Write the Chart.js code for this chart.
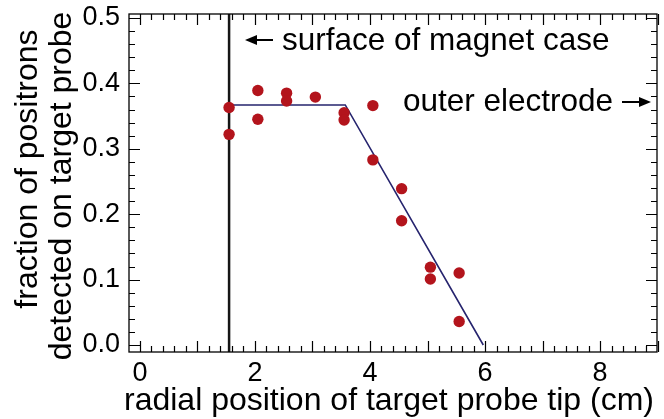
<!DOCTYPE html>
<html>
<head>
<meta charset="utf-8">
<script src="https://cdn.jsdelivr.net/npm/chart.js@4.4.1/dist/chart.umd.min.js"></script>
<style>
  html, body { margin: 0; padding: 0; background: #fff; }
  #chart { display: block; }
</style>
</head>
<body>
<canvas id="chart" width="664" height="419"></canvas>
<script>
// Measured positrons fraction vs radial probe position
const probeX = [1.55, 1.55, 2.05, 2.05, 2.55, 2.55, 3.05, 3.55, 3.55, 4.05, 4.05, 4.55, 4.55, 5.05, 5.05, 5.55, 5.55];
const fraction = [0.363, 0.322, 0.389, 0.345, 0.385, 0.373, 0.379, 0.355, 0.344, 0.366, 0.283, 0.239, 0.190, 0.119, 0.101, 0.110, 0.036];

// Piecewise fit line
const fitX = [1.55, 3.57, 5.97];
const fitY = [0.367, 0.367, 0.0];

// Magnet case surface
const magnetX = [1.55, 1.55];
const magnetY = [-0.02, 0.52];

// Axis ticks
const xTickValues = [0, 2, 4, 6, 8];
const xTickLabels = ['0', '2', '4', '6', '8'];
const yTickValues = [0, 0.1, 0.2, 0.3, 0.4, 0.5];
const yTickLabels = ['0.0', '0.1', '0.2', '0.3', '0.4', '0.5'];

const xTitle = 'radial position of target probe tip (cm)';
const yTitle = ['fraction of positrons', 'detected on target probe'];

const FAMILY = '"Liberation Sans", Arial, sans-serif';
const TICK_FONT = '27px ' + FAMILY;
const TITLE_FONT = '32px ' + FAMILY;
const NOTE_FONT = '31.5px ' + FAMILY;

function toPoints(xs, ys) {
  return xs.map((x, i) => ({ x: x, y: ys[i] }));
}

function drawText(ctx, text, x, y, align) {
  ctx.textAlign = align;
  ctx.fillText(text, x, y);
}

function arrow(ctx, x1, y, x2) {
  const dir = Math.sign(x2 - x1);
  ctx.beginPath();
  ctx.moveTo(x1, y);
  ctx.lineTo(x2 - dir * 10, y);
  ctx.lineWidth = 2;
  ctx.stroke();
  ctx.beginPath();
  ctx.moveTo(x2, y);
  ctx.lineTo(x2 - dir * 12, y - 5);
  ctx.lineTo(x2 - dir * 12, y + 5);
  ctx.closePath();
  ctx.fill();
}

// Frame, inward ticks, labels and annotations
const framePlugin = {
  id: 'frame',
  afterDraw(chart) {
    const ctx = chart.ctx;
    const a = chart.chartArea;
    const xs = chart.scales.x;
    const ys = chart.scales.y;
    ctx.save();
    ctx.strokeStyle = '#000';
    ctx.fillStyle = '#000';
    ctx.lineWidth = 1.3;
    ctx.strokeRect(a.left, a.top, a.right - a.left, a.bottom - a.top);

    ctx.lineWidth = 1.2;
    ctx.beginPath();
    for (let i = 0; i <= 45; i++) {
      const v = i * 0.2;
      const px = Math.round(xs.getPixelForValue(v)) + 0.5;
      const len = i % 5 === 0 ? 11 : 6;
      ctx.moveTo(px, a.bottom); ctx.lineTo(px, a.bottom - len);
      ctx.moveTo(px, a.top); ctx.lineTo(px, a.top + len);
    }
    for (let i = 0; i <= 25; i++) {
      const v = i * 0.02;
      const py = Math.round(ys.getPixelForValue(v)) + 0.5;
      const len = i % 5 === 0 ? 11 : 6;
      ctx.moveTo(a.left, py); ctx.lineTo(a.left + len, py);
      ctx.moveTo(a.right, py); ctx.lineTo(a.right - len, py);
    }
    ctx.stroke();

    ctx.font = TICK_FONT;
    ctx.textBaseline = 'middle';
    xTickValues.forEach((v, i) => {
      drawText(ctx, xTickLabels[i], xs.getPixelForValue(v), 374, 'center');
    });
    yTickValues.forEach((v, i) => {
      drawText(ctx, yTickLabels[i], a.left - 9, ys.getPixelForValue(v), 'right');
    });

    ctx.font = TITLE_FONT;
    ctx.textBaseline = 'alphabetic';
    drawText(ctx, xTitle, (a.left + a.right) / 2 - 4, 410, 'center');

    ctx.save();
    ctx.rotate(-Math.PI / 2);
    drawText(ctx, yTitle[0], -169, 37, 'center');
    drawText(ctx, yTitle[1], -186, 71, 'center');
    ctx.restore();

    ctx.font = NOTE_FONT;
    ctx.textBaseline = 'middle';
    arrow(ctx, 273, 40, 245);
    drawText(ctx, 'surface of magnet case', 282, 41, 'left');
    drawText(ctx, 'outer electrode', 403, 102, 'left');
    arrow(ctx, 622, 102, 651);
    ctx.restore();
  }
};

new Chart(document.getElementById('chart').getContext('2d'), {
  type: 'scatter',
  data: {
    datasets: [
      {
        label: 'data',
        data: toPoints(probeX, fraction),
        backgroundColor: '#b3141c',
        borderWidth: 0,
        pointRadius: 5.7,
        order: 0
      },
      {
        label: 'fit',
        data: toPoints(fitX, fitY),
        showLine: true,
        borderColor: '#26246e',
        borderWidth: 1.6,
        pointRadius: 0,
        order: 1
      },
      {
        label: 'magnet',
        data: toPoints(magnetX, magnetY),
        showLine: true,
        borderColor: '#151515',
        borderWidth: 2.5,
        pointRadius: 0,
        order: 2
      }
    ]
  },
  options: {
    responsive: false,
    animation: false,
    layout: { padding: { left: 129, right: 7, top: 14, bottom: 67 } },
    plugins: {
      legend: { display: false },
      tooltip: { enabled: false }
    },
    scales: {
      x: { type: 'linear', display: false, min: -0.19, max: 8.99 },
      y: { type: 'linear', display: false, min: -0.0107, max: 0.506 }
    }
  },
  plugins: [framePlugin]
});
</script>
</body>
</html>
